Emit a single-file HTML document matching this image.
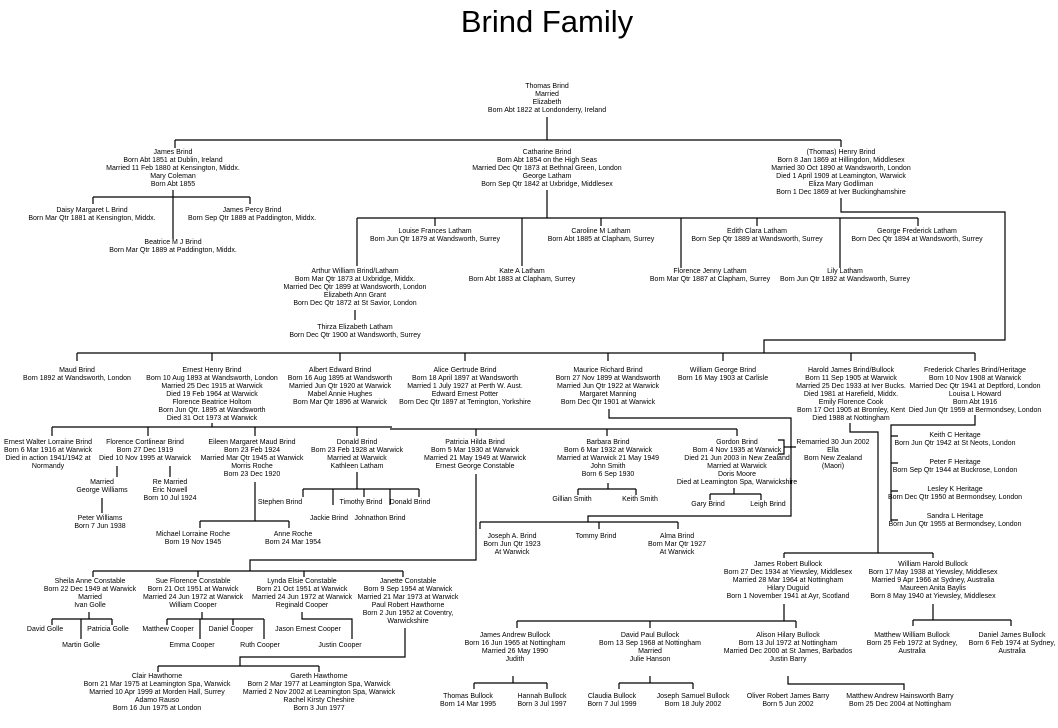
<!DOCTYPE html>
<html><head><meta charset="utf-8"><style>
html,body{margin:0;padding:0;background:#fff;}
body{width:1058px;height:728px;position:relative;overflow:hidden;font-family:"Liberation Sans",Arial,sans-serif;color:#000;}
.t{position:absolute;left:0;width:1094px;top:4px;text-align:center;font-size:31px;line-height:36px;}
.n{position:absolute;width:260px;margin-left:-130px;text-align:center;font-size:7px;line-height:8px;white-space:nowrap;}
svg{position:absolute;left:0;top:0;}
</style></head><body>
<div class="t">Brind Family</div>
<svg width="1058" height="728" viewBox="0 0 1058 728"><path fill="none" stroke="#000" stroke-width="1.2" d="
M547 117V140M175 140H841M175 140V148M841 140V147
M173 190V239M93 197H250M93 197V204M250 197V204
M547 190V218M357 218H918M435 218V226M601 218V226M757 218V226M918 218V226M357 218V266M522 218V266M681 218V268M840 218V268
M355 310V320
M841 198V212H1005V340H764V353
M77 353H975M77 353V361M212 353V361M340 353V361M465 353V361M608 353V361M723 353V361M851 353V361M975 353V361
M212 423V427M52 427H392M390 429H737M52 427V436M148 427V436M255 427V436M357 427V436M476 429V436M607 429V436M737 429V436
M117 466V477M170 466V477M102 498V513
M255 482V521M200 521H289M200 521V528M289 521V528
M357 472V489M303 489H419M303 489V497M333 489V505M364 489V497M390 489V505M419 489V497
M476 474V560H250V571M93 571H403M93 571V577M198 571V577M304 571V577M403 571V577
M89 612V619M52 619H112M52 619V625M112 619V625M81 619V639
M202 612V619M167 619H264M167 619V625M200 619V639M233 619V625M264 619V639
M302 612V619H352V639
M405 628V657H240V666M158 666H319M158 666V672M319 666V672
M609 409V418H791V516H588V522M480 522H678M480 522V529M599 522V529M678 522V529
M608 483V489M578 489H636M578 489V495M636 489V495
M734 488V494M710 494H761M710 494V500M761 494V500
M778 440H784V454H778M784 447H796
M975 415V425H891V521M891 436H898M891 463H898M891 491H898M891 520H898
M850 423V432H878V553M784 553H933M784 553V558M933 553V558
M784 604V621M517 621H796M517 621V628M650 621V628M796 621V628
M933 604V620M913 620H1011M913 620V626M1011 620V626
M513 676V683M474 683H547M474 683V689M547 683V689
M650 676V683M619 683H693M619 683V689M693 683V689
M788 676V684H904V690
"/></svg>

<div class="n" style="left:547px;top:83px">Thomas Brind<br>Married<br>Elizabeth<br>Born Abt 1822 at Londonderry, Ireland</div>

<div class="n" style="left:173px;top:149px">James Brind<br>Born Abt 1851 at Dublin, Ireland<br>Married 11 Feb 1880 at Kensington, Middx.<br>Mary Coleman<br>Born Abt 1855</div>
<div class="n" style="left:547px;top:149px">Catharine Brind<br>Born Abt 1854 on the High Seas<br>Married Dec Qtr 1873 at Bethnal Green, London<br>George Latham<br>Born Sep Qtr 1842 at Uxbridge, Middlesex</div>
<div class="n" style="left:841px;top:149px">(Thomas) Henry Brind<br>Born 8 Jan 1869 at Hillingdon, Middlesex<br>Married 30 Oct 1890 at Wandsworth, London<br>Died 1 April 1909 at Leamington, Warwick<br>Eliza Mary Godliman<br>Born 1 Dec 1869 at Iver Buckinghamshire</div>

<div class="n" style="left:92px;top:207px">Daisy Margaret L Brind<br>Born Mar Qtr 1881 at Kensington, Middx.</div>
<div class="n" style="left:252px;top:207px">James Percy Brind<br>Born Sep Qtr 1889 at Paddington, Middx.</div>
<div class="n" style="left:173px;top:239px">Beatrice M J Brind<br>Born Mar Qtr 1889 at Paddington, Middx.</div>

<div class="n" style="left:435px;top:228px">Louise Frances Latham<br>Born Jun Qtr 1879 at Wandsworth, Surrey</div>
<div class="n" style="left:601px;top:228px">Caroline M Latham<br>Born Abt 1885 at Clapham, Surrey</div>
<div class="n" style="left:757px;top:228px">Edith Clara Latham<br>Born Sep Qtr 1889 at Wandsworth, Surrey</div>
<div class="n" style="left:917px;top:228px">George Frederick Latham<br>Born Dec Qtr 1894 at Wandsworth, Surrey</div>

<div class="n" style="left:355px;top:268px">Arthur William Brind/Latham<br>Born Mar Qtr 1873 at Uxbridge, Middx.<br>Married Dec Qtr 1899 at Wandsworth, London<br>Elizabeth Ann Grant<br>Born Dec Qtr 1872 at St Savior, London</div>
<div class="n" style="left:355px;top:324px">Thirza Elizabeth Latham<br>Born Dec Qtr 1900 at Wandsworth, Surrey</div>
<div class="n" style="left:522px;top:268px">Kate A Latham<br>Born Abt 1883 at Clapham, Surrey</div>
<div class="n" style="left:710px;top:268px">Florence Jenny Latham<br>Born Mar Qtr 1887 at Clapham, Surrey</div>
<div class="n" style="left:845px;top:268px">Lily Latham<br>Born Jun Qtr 1892 at Wandsworth, Surrey</div>

<div class="n" style="left:77px;top:367px">Maud Brind<br>Born 1892 at Wandsworth, London</div>
<div class="n" style="left:212px;top:367px">Ernest Henry Brind<br>Born 10 Aug 1893 at Wandsworth, London<br>Married 25 Dec 1915 at Warwick<br>Died 19 Feb 1964 at Warwick<br>Florence Beatrice Holtom<br>Born Jun Qtr. 1895 at Wandsworth<br>Died 31 Oct 1973 at Warwick</div>
<div class="n" style="left:340px;top:367px">Albert Edward Brind<br>Born 16 Aug 1895 at Wandsworth<br>Married Jun Qtr 1920 at Warwick<br>Mabel Annie Hughes<br>Born Mar Qtr 1896 at Warwick</div>
<div class="n" style="left:465px;top:367px">Alice Gertrude Brind<br>Born 18 April 1897 at Wandsworth<br>Married 1 July 1927 at Perth W. Aust.<br>Edward Ernest Potter<br>Born Dec Qtr 1897 at Terrington, Yorkshire</div>
<div class="n" style="left:608px;top:367px">Maurice Richard Brind<br>Born 27 Nov 1899 at Wandsworth<br>Married Jun Qtr 1922 at Warwick<br>Margaret Manning<br>Born Dec Qtr 1901 at Warwick</div>
<div class="n" style="left:723px;top:367px">William George Brind<br>Born 16 May 1903 at Carlisle</div>
<div class="n" style="left:851px;top:367px">Harold James Brind/Bullock<br>Born 11 Sep 1905 at Warwick<br>Married 25 Dec 1933 at Iver Bucks.<br>Died 1981 at Harefield, Middx.<br>Emily Florence Cook<br>Born 17 Oct 1905 at Bromley, Kent<br>Died 1988 at Nottingham</div>
<div class="n" style="left:975px;top:367px">Frederick Charles Brind/Heritage<br>Born 10 Nov 1908 at Warwick<br>Married Dec Qtr 1941 at Deptford, London<br>Louisa L Howard<br>Born Abt 1916<br>Died Jun Qtr 1959 at Bermondsey, London</div>

<div class="n" style="left:48px;top:439px">Ernest Walter Lorraine Brind<br>Born 6 Mar 1916 at Warwick<br>Died in action 1941/1942 at<br>Normandy</div>
<div class="n" style="left:145px;top:439px">Florence Cortlinear Brind<br>Born 27 Dec 1919<br>Died 10 Nov 1995 at Warwick</div>
<div class="n" style="left:102px;top:479px">Married<br>George Williams</div>
<div class="n" style="left:170px;top:479px">Re Married<br>Eric Nowell<br>Born 10 Jul 1924</div>
<div class="n" style="left:100px;top:515px">Peter Williams<br>Born 7 Jun 1938</div>
<div class="n" style="left:252px;top:439px">Eileen Margaret Maud Brind<br>Born 23 Feb 1924<br>Married Mar Qtr 1945 at Warwick<br>Morris Roche<br>Born 23 Dec 1920</div>
<div class="n" style="left:193px;top:531px">Michael Lorraine Roche<br>Born 19 Nov 1945</div>
<div class="n" style="left:293px;top:531px">Anne Roche<br>Born 24 Mar 1954</div>
<div class="n" style="left:357px;top:439px">Donald Brind<br>Born 23 Feb 1928 at Warwick<br>Married at Warwick<br>Kathleen Latham</div>
<div class="n" style="left:280px;top:499px">Stephen Brind</div>
<div class="n" style="left:361px;top:499px">Timothy Brind</div>
<div class="n" style="left:410px;top:499px">Donald Brind</div>
<div class="n" style="left:329px;top:515px">Jackie Brind</div>
<div class="n" style="left:380px;top:515px">Johnathon Brind</div>
<div class="n" style="left:475px;top:439px">Patricia Hilda Brind<br>Born 5 Mar 1930 at Warwick<br>Married 21 May 1949 at Warwick<br>Ernest George Constable</div>
<div class="n" style="left:608px;top:439px">Barbara Brind<br>Born 6 Mar 1932 at Warwick<br>Married at Warwick 21 May 1949<br>John Smith<br>Born 6 Sep 1930</div>
<div class="n" style="left:572px;top:496px">Gillian Smith</div>
<div class="n" style="left:640px;top:496px">Keith Smith</div>
<div class="n" style="left:737px;top:439px">Gordon Brind<br>Born 4 Nov 1935 at Warwick<br>Died 21 Jun 2003 in New Zealand<br>Married at Warwick<br>Doris Moore<br>Died at Leamington Spa, Warwickshire</div>
<div class="n" style="left:708px;top:501px">Gary Brind</div>
<div class="n" style="left:768px;top:501px">Leigh Brind</div>
<div class="n" style="left:833px;top:439px">Remarried 30 Jun 2002<br>Ella<br>Born New Zealand<br>(Maori)</div>

<div class="n" style="left:955px;top:432px">Keith C Heritage<br>Born Jun Qtr 1942 at St Neots, London</div>
<div class="n" style="left:955px;top:459px">Peter F Heritage<br>Born Sep Qtr 1944 at Buckrose, London</div>
<div class="n" style="left:955px;top:486px">Lesley K Heritage<br>Born Dec Qtr 1950 at Bermondsey, London</div>
<div class="n" style="left:955px;top:513px">Sandra L Heritage<br>Born Jun Qtr 1955 at Bermondsey, London</div>

<div class="n" style="left:512px;top:533px">Joseph A. Brind<br>Born Jun Qtr 1923<br>At Warwick</div>
<div class="n" style="left:596px;top:533px">Tommy Brind</div>
<div class="n" style="left:677px;top:533px">Alma Brind<br>Born Mar Qtr 1927<br>At Warwick</div>

<div class="n" style="left:90px;top:578px">Sheila Anne Constable<br>Born 22 Dec 1949 at Warwick<br>Married<br>Ivan Golle</div>
<div class="n" style="left:45px;top:626px">David Golle</div>
<div class="n" style="left:108px;top:626px">Patricia Golle</div>
<div class="n" style="left:81px;top:642px">Martin Golle</div>
<div class="n" style="left:193px;top:578px">Sue Florence Constable<br>Born 21 Oct 1951 at Warwick<br>Married 24 Jun 1972 at Warwick<br>William Cooper</div>
<div class="n" style="left:168px;top:626px">Matthew Cooper</div>
<div class="n" style="left:231px;top:626px">Daniel Cooper</div>
<div class="n" style="left:192px;top:642px">Emma Cooper</div>
<div class="n" style="left:260px;top:642px">Ruth Cooper</div>
<div class="n" style="left:302px;top:578px">Lynda Elsie Constable<br>Born 21 Oct 1951 at Warwick<br>Married 24 Jun 1972 at Warwick<br>Reginald Cooper</div>
<div class="n" style="left:308px;top:626px">Jason Ernest Cooper</div>
<div class="n" style="left:340px;top:642px">Justin Cooper</div>
<div class="n" style="left:408px;top:578px">Janette Constable<br>Born 9 Sep 1954 at Warwick<br>Married 21 Mar 1973 at Warwick<br>Paul Robert Hawthorne<br>Born 2 Jun 1952 at Coventry,<br>Warwickshire</div>
<div class="n" style="left:157px;top:673px">Clair Hawthorne<br>Born 21 Mar 1975 at Leamington Spa, Warwick<br>Married 10 Apr 1999 at Morden Hall, Surrey<br>Adamo Rauso<br>Born 16 Jun 1975 at London</div>
<div class="n" style="left:319px;top:673px">Gareth Hawthorne<br>Born 2 Mar 1977 at Leamington Spa, Warwick<br>Married 2 Nov 2002 at Leamington Spa, Warwick<br>Rachel Kirsty Cheshire<br>Born 3 Jun 1977</div>

<div class="n" style="left:788px;top:561px">James Robert Bullock<br>Born 27 Dec 1934 at Yiewsley, Middlesex<br>Married 28 Mar 1964 at Nottingham<br>Hilary Duguid<br>Born 1 November 1941 at Ayr, Scotland</div>
<div class="n" style="left:933px;top:561px">William Harold Bullock<br>Born 17 May 1938 at Yiewsley, Middlesex<br>Married 9 Apr 1966 at Sydney, Australia<br>Maureen Anita Baylis<br>Born 8 May 1940 at Yiewsley, Middlesex</div>
<div class="n" style="left:515px;top:632px">James Andrew Bullock<br>Born 16 Jun 1965 at Nottingham<br>Married 26 May 1990<br>Judith</div>
<div class="n" style="left:650px;top:632px">David Paul Bullock<br>Born 13 Sep 1968 at Nottingham<br>Married<br>Julie Hanson</div>
<div class="n" style="left:788px;top:632px">Alison Hilary Bullock<br>Born 13 Jul 1972 at Nottingham<br>Married Dec 2000 at St James, Barbados<br>Justin Barry</div>
<div class="n" style="left:912px;top:632px">Matthew William Bullock<br>Born 25 Feb 1972 at Sydney,<br>Australia</div>
<div class="n" style="left:1012px;top:632px">Daniel James Bullock<br>Born 6 Feb 1974 at Sydney,<br>Australia</div>
<div class="n" style="left:468px;top:693px">Thomas Bullock<br>Born 14 Mar 1995</div>
<div class="n" style="left:542px;top:693px">Hannah Bullock<br>Born 3 Jul 1997</div>
<div class="n" style="left:612px;top:693px">Claudia Bullock<br>Born 7 Jul 1999</div>
<div class="n" style="left:693px;top:693px">Joseph Samuel Bullock<br>Born 18 July 2002</div>
<div class="n" style="left:788px;top:693px">Oliver Robert James Barry<br>Born 5 Jun 2002</div>
<div class="n" style="left:900px;top:693px">Matthew Andrew Hainsworth Barry<br>Born 25 Dec 2004 at Nottingham</div>
</body></html>
